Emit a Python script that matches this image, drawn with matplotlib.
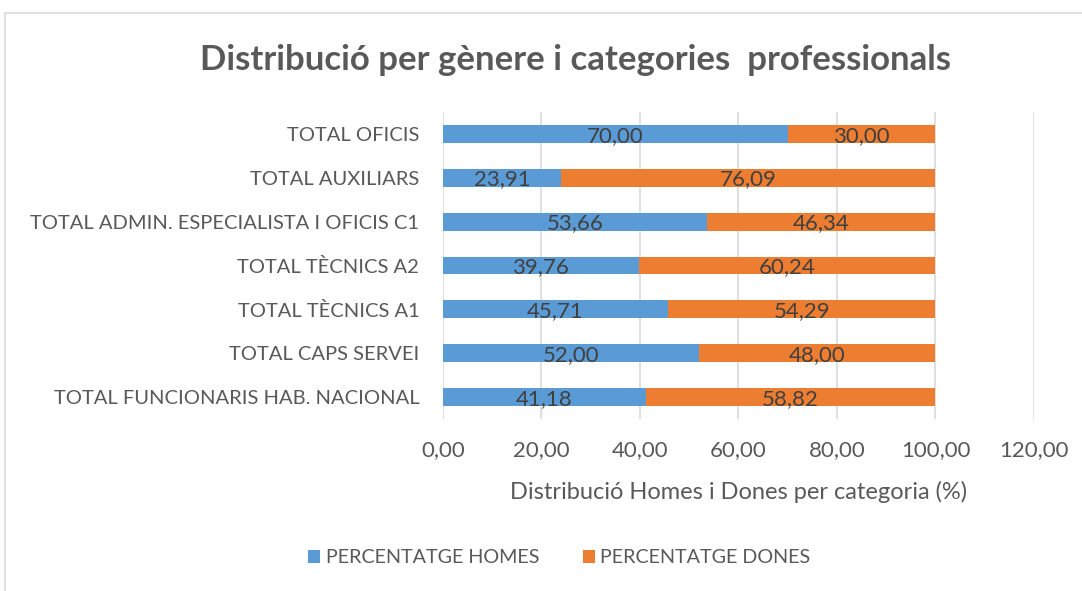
import matplotlib.pyplot as plt
from matplotlib.patches import Rectangle

# Data
categories = ["TOTAL FUNCIONARIS HAB. NACIONAL", "TOTAL CAPS SERVEI", "TOTAL TÈCNICS A1",
              "TOTAL TÈCNICS A2", "TOTAL ADMIN. ESPECIALISTA I OFICIS C1",
              "TOTAL AUXILIARS", "TOTAL OFICIS"]
homes = [41.18, 52.00, 45.71, 39.76, 53.66, 23.91, 70.00]
dones = [58.82, 48.00, 54.29, 60.24, 46.34, 76.09, 30.00]
xticks = [0, 20, 40, 60, 80, 100, 120]

plt.rcParams['font.family'] = ['Lato', 'DejaVu Sans']
grey = "#595959"

fig = plt.figure(figsize=(10.82, 5.91), dpi=100)
ax = fig.add_axes([0.4094, 0.2910, 0.5462, 0.5195])

# chart border
fig.patches.append(Rectangle((5 / 1082, -0.1), 1.1, 1 - 13 / 591 + 0.1, transform=fig.transFigure,
                             fill=False, edgecolor="#d9d9d9", linewidth=1.2))

pos = list(range(len(categories)))
b1 = ax.barh(pos, homes, height=0.41, color="#5B9BD5", label="PERCENTATGE HOMES", zorder=3)
b2 = ax.barh(pos, dones, left=homes, height=0.41, color="#ED7D31", label="PERCENTATGE DONES", zorder=3)

def fmt(v):
    return f"{v:.2f}".replace(".", ",")

for bars, vals in ((b1, homes), (b2, dones)):
    for rect, v in zip(bars, vals):
        ax.text(rect.get_x() + rect.get_width() / 2, rect.get_y() + rect.get_height() / 2 - 0.04, fmt(v),
                ha="center", va="center", fontsize=16, color="#404040", zorder=4)

ax.set_xlim(0, 120)
ax.set_ylim(-0.5, len(categories) - 0.5)
ax.set_xticks(xticks)
ax.set_xticklabels([fmt(t) for t in xticks], fontsize=16, color=grey)
ax.set_yticks(pos)
ax.set_yticklabels(categories, fontsize=14.5, color=grey)
ax.tick_params(axis="x", length=0, pad=15)
ax.tick_params(axis="y", length=0, pad=17)
ax.grid(axis="x", color="#d9d9d9", linewidth=1.2, zorder=0)
for s in ax.spines.values():
    s.set_visible(False)

ax.set_xlabel("Distribució Homes i Dones per categoria (%)", fontsize=17, color=grey, labelpad=15)

fig.text(0.532, 0.898, "Distribució per gènere i categories  professionals", ha="center", va="center",
         fontsize=25, fontweight="bold", color=grey)

fig.legend(handles=[b1, b2], loc="center", bbox_to_anchor=(0.517, 0.056), ncol=2, frameon=False,
           fontsize=14.2, labelcolor=grey, handlelength=0.6, handleheight=0.6, columnspacing=2.2,
           handletextpad=0.3)

fig.savefig("out.png", dpi=100)
